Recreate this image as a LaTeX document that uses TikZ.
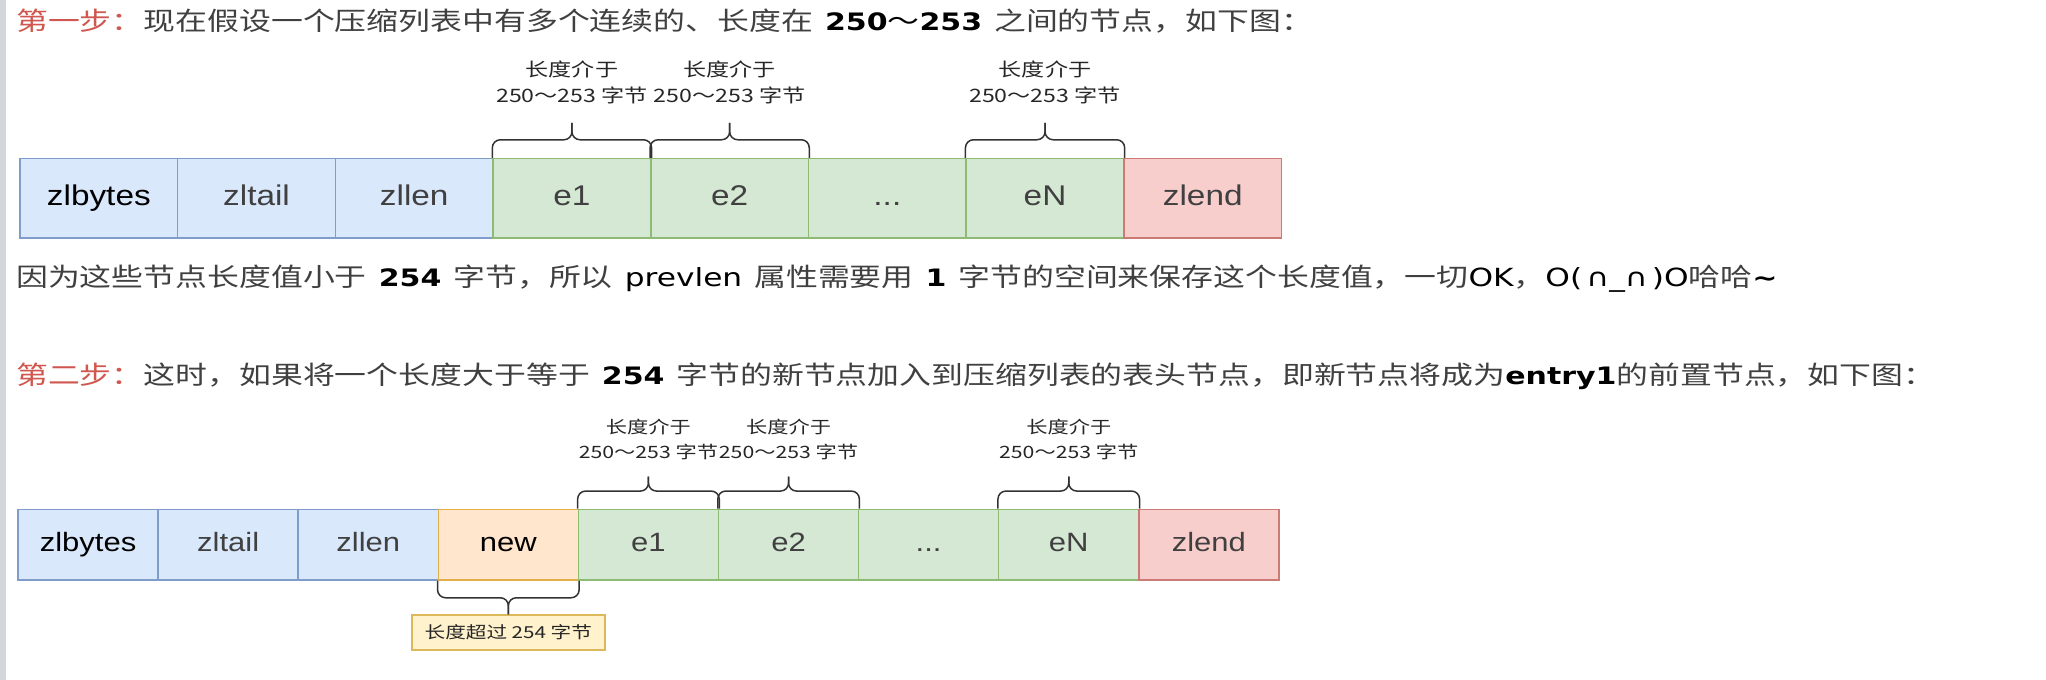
\documentclass[tikz,border=0pt]{standalone}
\usepackage{fontspec}
\usetikzlibrary{calc}
\newfontfamily\cjk{Noto Sans CJK SC}[FakeStretch=1.25]
\newfontfamily\lat{DejaVu Sans}[FakeStretch=1.25]
\newfontfamily\boxf{Liberation Sans}[FakeStretch=1.17]
\definecolor{stepred}{HTML}{D0574F}
\definecolor{txtgray}{HTML}{404040}
\definecolor{bluef}{HTML}{DAE8FC}\definecolor{blued}{HTML}{7F9CCB}
\definecolor{greenf}{HTML}{D5E8D4}\definecolor{greend}{HTML}{8DBB74}
\definecolor{redf}{HTML}{F8CECC}\definecolor{redd}{HTML}{CC7A76}
\definecolor{orf}{HTML}{FFE6CC}\definecolor{ord}{HTML}{E3AE4A}
\definecolor{yelf}{HTML}{FFF2CC}\definecolor{yeld}{HTML}{DDB85A}
\definecolor{bracec}{HTML}{333333}
\definecolor{barc}{HTML}{D3D6DB}
\newcommand\Num[1]{{\color{black}\lat\bfseries\fontsize{24}{28}\selectfont #1}}
\newcommand\Lat[1]{{\color{black}\lat\fontsize{25}{28}\selectfont #1}}
\newcommand\gap{\hspace{12pt}}
\begin{document}
\begin{tikzpicture}[x=1pt,y=-1pt,
  txt/.style={anchor=base west,inner sep=0,text=txtgray,font={\cjk\fontsize{25.5}{30}\selectfont}},
  cellA/.style={draw,line width=1.5pt,minimum width=157.7pt,minimum height=79.5pt,inner sep=0,text height=20pt,text depth=6pt,text=txtgray,font={\boxf\fontsize{28.5}{32}\selectfont}},
  cellB/.style={draw,line width=1.5pt,minimum width=140.1pt,minimum height=70.7pt,inner sep=0,text height=19pt,text depth=5.5pt,text=txtgray,font={\boxf\fontsize{26.5}{30}\selectfont}},
  bl/.style={fill=bluef,draw=blued},
  gr/.style={fill=greenf,draw=greend},
  rd/.style={fill=redf,draw=redd},
  og/.style={fill=orf,draw=ord},
  brc/.style={draw=bracec,line width=1.5pt,rounded corners=8pt},
  lblA/.style={align=center,inner sep=0,text=black!85,font={\cjk\fontsize{18.5}{26}\selectfont}},
  lblB/.style={align=center,inner sep=0,text=black!85,font={\cjk\fontsize{17}{25}\selectfont}}
]
\useasboundingbox (0,0) rectangle (2046,680);
\fill[barc] (0,0) rectangle (6,680);

% text lines
\node[txt] (t1) at (16,30) {\textcolor{stepred}{第一步：}现在假设一个压缩列表中有多个连续的、长度在\gap\Num{250}{\color{black}～}\Num{253}\gap 之间的节点，如下图：};
\node[txt] (t2) at (16,286) {因为这些节点长度值小于\gap\Num{254}\gap 字节，所以\gap\Lat{prevlen}\gap 属性需要用\gap\Num{1}\gap 字节的空间来保存这个长度值，一切\Lat{OK}，\Lat{O(\,∩\_∩\,)O}哈哈\Num{\textasciitilde}};
\node[txt] (t3) at (16,384) {\textcolor{stepred}{第二步：}这时，如果将一个长度大于等于\gap\Num{254}\gap 字节的新节点加入到压缩列表的表头节点，即新节点将成为\Num{entry1}的前置节点，如下图：};

% diagram 1
\node[cellA,bl] (a1) at (98.85,198.25) {\color{black}zlbytes};
\node[cellA,bl] (a2) at (256.55,198.25) {zltail};
\node[cellA,bl] (a3) at (414.25,198.25) {zllen};
\node[cellA,gr] (a4) at (571.95,198.25) {e1};
\node[cellA,gr] (a5) at (729.65,198.25) {e2};
\node[cellA,gr] (a6) at (887.35,198.25) {...};
\node[cellA,gr] (a7) at (1045.05,198.25) {eN};
\node[cellA,rd] (a8) at (1202.75,198.25) {zlend};

\foreach \n in {a4,a5,a7}{
  \draw[brc] (\n.north west) -- ++(0,-18) -- ($(\n.north)+(0,-18)$) -- ++(0,-17);
  \draw[brc] (\n.north east) -- ++(0,-18) -- ($(\n.north)+(0,-18)$) -- ++(0,-17);
  \node[lblA] (l\n) at ($(\n.north)+(0,-75.5)$) {长度介于\\250～253 字节};
}

% diagram 2
\node[cellB,bl] (b1) at (88.05,544.65) {\color{black}zlbytes};
\node[cellB,bl] (b2) at (228.15,544.65) {zltail};
\node[cellB,bl] (b3) at (368.25,544.65) {zllen};
\node[cellB,og] (b4) at (508.35,544.65) {\color{black}new};
\node[cellB,gr] (b5) at (648.45,544.65) {e1};
\node[cellB,gr] (b6) at (788.55,544.65) {e2};
\node[cellB,gr] (b7) at (928.65,544.65) {...};
\node[cellB,gr] (b8) at (1068.75,544.65) {eN};
\node[cellB,rd] (b9) at (1208.85,544.65) {zlend};

\foreach \n in {b5,b6,b8}{
  \draw[brc] (\n.north west) -- ++(0,-17.5) -- ($(\n.north)+(0,-17.5)$) -- ++(0,-14.5);
  \draw[brc] (\n.north east) -- ++(0,-17.5) -- ($(\n.north)+(0,-17.5)$) -- ++(0,-14.5);
  \node[lblB] (l\n) at ($(\n.north)+(0,-68.8)$) {长度介于\\250～253 字节};
}

\node[draw=yeld,fill=yelf,line width=1.5pt,minimum width=193pt,minimum height=35pt,inner sep=0,text=black!85,font={\cjk\fontsize{16.5}{20}\selectfont}] (nb) at (508.3,632.5) {长度超过 254 字节};
\draw[brc] (b4.south west) -- ++(0,17) -- ($(b4.south)+(0,17)$) -- (nb.north);
\draw[brc] (b4.south east) -- ++(0,17) -- ($(b4.south)+(0,17)$) -- (nb.north);
\end{tikzpicture}
\end{document}
